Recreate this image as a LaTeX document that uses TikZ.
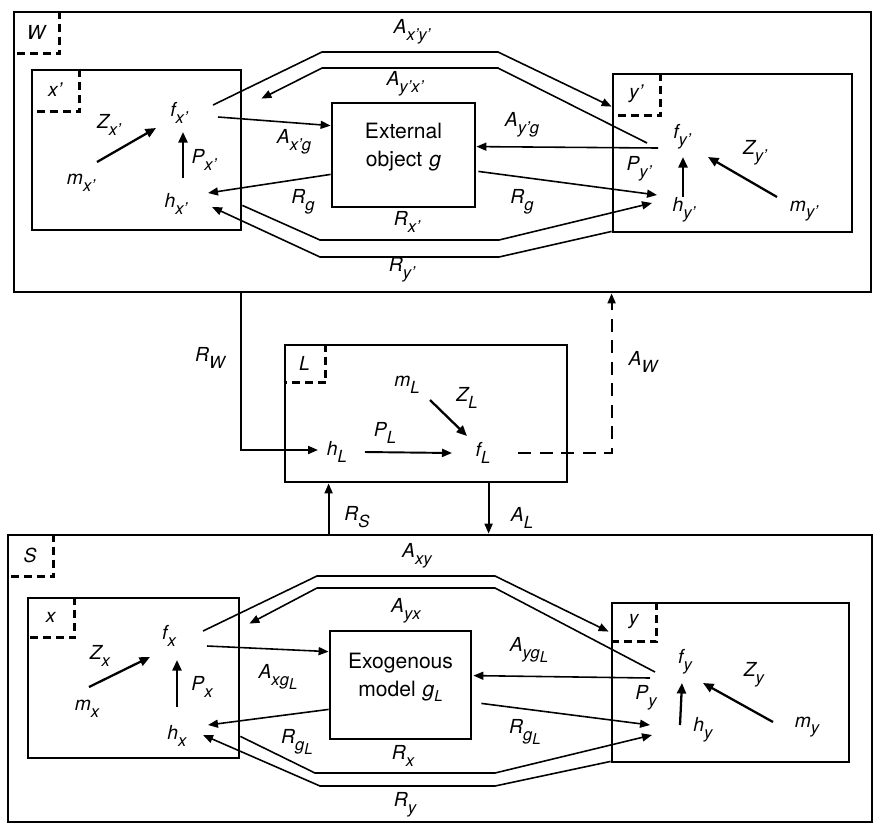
\documentclass[tikz,border=0pt]{standalone}
\usepackage{fontspec}
\setmainfont{TeX Gyre Heros}
\usetikzlibrary{arrows.meta, calc, fit}
\newcommand{\lb}[2]{\textit{#1}\raisebox{-.65ex}{\fontsize{9.5}{10}\selectfont\textit{#2}}}
\newcommand{\gL}{g\raisebox{-.45ex}{\fontsize{8.5}{9}\selectfont L}}
\newcommand{\cornertag}[4]{%
  \draw[tagline] ($(#1.north west)+(#2,0)$) |- ($(#1.north west)+(0,#3)$);
  \node[lab] (#1-tag) at ($(#1.north west)+(#2/2,#3/2)$) {#4};}

\begin{document}
\begin{tikzpicture}[x=0.2mm, y=-0.2mm,
    box/.style={draw, line width=1.6pt, inner sep=0pt},
    tagline/.style={line width=1.4pt, dash pattern=on 1.6mm off 1mm},
    lab/.style={font=\fontsize{11}{12}\selectfont\itshape, inner sep=1pt},
    txt/.style={align=center, font=\fontsize{12}{16}\selectfont},
    conn/.style={line width=0.9pt},
    arr/.style={-{Triangle[length=2mm,width=1.6mm]}},
    inarrow/.style={line width=1.3pt, -{Triangle[length=2.1mm,width=1.8mm]}}]
  \useasboundingbox (0,0) rectangle (874,823);

  % world W
  \node[box, fit={(14,12) (871,292)}] (W) {};
  \cornertag{W}{47}{43}{W}
  \node[box, fit={(32,70) (241,230)}] (xp) {};
  \cornertag{xp}{49}{43}{x'}
  \node[box, fit={(613,74) (852,232)}] (yp) {};
  \cornertag{yp}{49}{43}{y'}
  \node[box, fit={(332,103) (475,207)}, txt] (extg) {External\\object \textit{g}};

  \node[lab] (fxp) at (179,113) {\lb{f}{x'}};
  \node[lab] (hxp) at (176,204) {\lb{h}{x'}};
  \node[lab] (mxp) at (81,183) {\lb{m}{x'}};
  \node[lab] (Zxp) at (109,125) {\lb{Z}{x'}};
  \node[lab] (Pxp) at (204,160) {\lb{P}{x'}};
  \node[lab] (fyp) at (682,137) {\lb{f}{y'}};
  \node[lab] (hyp) at (684,210) {\lb{h}{y'}};
  \node[lab] (myp) at (804,211) {\lb{m}{y'}};
  \node[lab] (Zyp) at (755,153) {\lb{Z}{y'}};
  \node[lab] (Pyp) at (639,169) {\lb{P}{y'}};

  \draw[inarrow] ($(mxp)+(16,-21)$) -- ($(fxp)+(-23,15)$);
  \draw[inarrow] ($(hxp)+(7,-26)$) -- ($(fxp)+(4,19)$);
  \draw[inarrow] ($(myp)+(-27,-14)$) -- ($(fyp)+(26,20)$);
  \draw[inarrow] ($(hyp)+(-1,-13)$) -- ($(fyp)+(1,20)$);

  % actions and reactions inside W
  \draw[conn, arr] ($(fxp)+(34,-8)$) -- (322,52) -- (498,52) -- ($(yp.north west)+(0,34)$);
  \draw[conn, arr] ($(fyp)+(-35,6)$) -- (498,68) -- (322,68) -- ($(xp.north east)+(19,30)$);
  \draw[conn, arr] ($(fxp)+(39,4)$) -- ($(extg.north west)+(0,24)$);
  \draw[conn, arr] ($(fyp)+(-24,11)$) -- ($(extg.north east)+(0,45)$);
  \draw[conn, arr] ($(extg.south west)+(0,-34)$) -- ($(hxp)+(32,-11)$);
  \draw[conn, arr] ($(extg.south east)+(2,-37)$) -- ($(hyp)+(-27,-15)$);
  \draw[conn, arr] ($(xp.south east)+(0,-26)$) -- (320,240) -- (499,240) -- ($(hyp)+(-32,-7)$);
  \draw[conn, arr] ($(yp.south west)+(0,-2)$) -- (499,257) -- (320,257) -- ($(hxp)+(36,3)$);

  \node[lab] (lAxpyp) at (412,32) {\lb{A}{x'y'}};
  \node[lab] (lAypxp) at (405,84) {\lb{A}{y'x'}};
  \node[lab] (lAxpg) at (294,142) {\lb{A}{x'g}};
  \node[lab] (lAypg) at (522,125) {\lb{A}{y'g}};
  \node[lab] (lRgl) at (303,202) {\lb{R}{g}};
  \node[lab] (lRgr) at (522,202) {\lb{R}{g}};
  \node[lab] (lRxp) at (407,222) {\lb{R}{x'}};
  \node[lab] (lRyp) at (402,270) {\lb{R}{y'}};

  % language L
  \node[box, fit={(285,345) (567,482)}] (L) {};
  \cornertag{L}{42}{39}{L}
  \node[lab] (mL) at (407,385) {\lb{m}{L}};
  \node[lab] (ZL) at (467,398) {\lb{Z}{L}};
  \node[lab] (fL) at (483,453) {\lb{f}{L}};
  \node[lab] (hL) at (337,452) {\lb{h}{L}};
  \node[lab] (PL) at (385,433) {\lb{P}{L}};
  \draw[inarrow] ($(mL)+(23,15)$) -- ($(fL)+(-16,-17)$);
  \draw[conn, line width=1.1pt, arr] ($(hL)+(28,0)$) -- ($(fL)+(-31,0)$);

  % system S
  \node[box, fit={(8,535) (872,822)}] (S) {};
  \cornertag{S}{47}{43}{S}
  \node[box, fit={(28,598) (239,758)}] (x) {};
  \cornertag{x}{48}{41}{x}
  \node[box, fit={(612,603) (849,762)}] (y) {};
  \cornertag{y}{46}{40}{y}
  \node[box, fit={(330,631) (471,739)}, txt] (exog) {Exogenous\\model \textit{\gL}};

  % links between W, L and S
  \draw[conn, line width=1.1pt, arr] ($(W.south west)+(228,0)$) |- ($(hL)+(-19,-2)$);
  \draw[conn, line width=1.1pt, dash pattern=on 2.6mm off 1.7mm, arr] ($(fL)+(35,0)$) -| ($(W.south west)+(599,0)$);
  \draw[conn, line width=1.1pt, arr] ($(S.north west)+(322,0)$) -- ($(L.south west)+(45,0)$);
  \draw[conn, line width=1.1pt, arr] ($(L.south west)+(205,0)$) -- ($(S.north west)+(482,0)$);
  \node[lab] (lRW) at (210,358) {\lb{R}{W}};
  \node[lab] (lAW) at (643,362) {\lb{A}{W}};
  \node[lab] (lRS) at (357,517) {\lb{R}{S}};
  \node[lab] (lAL) at (522,518) {\lb{A}{L}};

  \node[lab] (fx) at (169,636) {\lb{f}{x}};
  \node[lab] (hx) at (177,736) {\lb{h}{x}};
  \node[lab] (mx) at (87,709) {\lb{m}{x}};
  \node[lab] (Zx) at (100,656) {\lb{Z}{x}};
  \node[lab] (Px) at (202,687) {\lb{P}{x}};
  \node[lab] (fy) at (685,662) {\lb{f}{y}};
  \node[lab] (hy) at (703,730) {\lb{h}{y}};
  \node[lab] (my) at (807,727) {\lb{m}{y}};
  \node[lab] (Zy) at (754,675) {\lb{Z}{y}};
  \node[lab] (Py) at (646,698) {\lb{P}{y}};

  \draw[inarrow] ($(mx)+(2,-22)$) -- ($(fx)+(-19,21)$);
  \draw[inarrow] ($(hx)+(0,-29)$) -- ($(fx)+(8,24)$);
  \draw[inarrow] ($(my)+(-34,-5)$) -- ($(fy)+(18,21)$);
  \draw[inarrow] ($(hy)+(-23,-5)$) -- ($(fy)+(-3,21)$);

  % actions and reactions inside S
  \draw[conn, arr] ($(fx)+(34,-5)$) -- (317,576) -- (495,576) -- ($(y.north west)+(-2,30)$);
  \draw[conn, arr] ($(fy)+(-30,10)$) -- (495,588) -- (317,588) -- ($(x.north east)+(9,27)$);
  \draw[conn, arr] ($(fx)+(38,10)$) -- ($(exog.north west)+(0,22)$);
  \draw[conn, arr] ($(fy)+(-35,16)$) -- ($(exog.north east)+(1,46)$);
  \draw[conn, arr] ($(exog.south west)+(0,-31)$) -- ($(hx)+(31,-11)$);
  \draw[conn, arr] ($(exog.south east)+(9,-37)$) -- ($(hy)+(-53,-5)$);
  \draw[conn, arr] ($(x.south east)+(0,-23)$) -- (315,773) -- (495,773) -- ($(hy)+(-51,5)$);
  \draw[conn, arr] ($(y.south west)+(0,-2)$) -- (495,786) -- (320,786) -- ($(hx)+(26,-1)$);

  \node[lab] (lAxy) at (417,556) {\lb{A}{xy}};
  \node[lab] (lAyx) at (406,611) {\lb{A}{yx}};
  \node[lab] (lAxg) at (278,677) {\lb{A}{x\gL}};
  \node[lab] (lAyg) at (529,650) {\lb{A}{y\gL}};
  \node[lab] (lRgLl) at (297,742) {\lb{R}{\gL}};
  \node[lab] (lRgLr) at (525,732) {\lb{R}{\gL}};
  \node[lab] (lRx) at (403,756) {\lb{R}{x}};
  \node[lab] (lRy) at (405,805) {\lb{R}{y}};
\end{tikzpicture}
\end{document}
